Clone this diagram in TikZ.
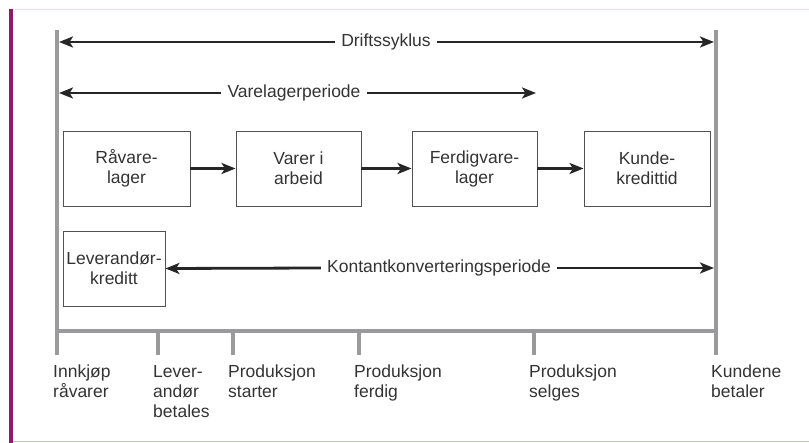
\documentclass[tikz,border=0pt]{standalone}
\usepackage{fontspec}
\setmainfont{Liberation Sans}
\usetikzlibrary{arrows.meta}
\definecolor{rulegray}{HTML}{9A9A9D}
\definecolor{ink}{HTML}{333333}
\definecolor{framebar}{HTML}{8C1A6E}
\definecolor{framelight}{HTML}{EEDCF2}
\definecolor{framepink}{HTML}{F0A8EC}
\tikzset{
  txt/.style={text=ink, font=\fontsize{17.5}{20}\selectfont, inner sep=2pt},
  stage/.style={txt, draw=ink!85, line width=.9pt, minimum height=75, align=center},
  period/.style={txt, inner sep=6pt},
  flow/.style={line width=2.8pt, draw=black!85, -{Stealth[length=14pt, width=11pt, inset=3.5pt]}},
  timeline/.style={line width=4pt, draw=rulegray},
  event/.style={txt, anchor=north west, align=left}
}
\begin{document}
\begin{tikzpicture}[x=1pt, y=-1pt]
  \useasboundingbox (0,0) rectangle (809,443);
  % frame of the page
  \fill[framebar] (9,9) rectangle (12.5,443);
  \draw[framelight] (12.5,9.5) -- (809,9.5);
  \draw[framepink, line width=1.4pt] (12.5,441.5) -- (809,441.5);

  % time axis
  \draw[timeline] (57,30) -- (57,355);
  \draw[timeline] (716,30) -- (716,355);
  \draw[timeline] (57,331) -- (716,331);
  \foreach \x in {158,233,359,534}
    \draw[timeline] (\x,331) -- (\x,355);

  % arrow ends on the axis lines
  \coordinate (dL) at (59,42);   \coordinate (dR) at (714,42);
  \coordinate (vL) at (59,93);   \coordinate (vR) at (536,93);
  \coordinate (kR) at (714,268);

  % periods
  \node[period] (drift) at (386,42) {Driftssyklus};
  \draw[flow] (drift.west) -- (dL);
  \draw[flow] (drift.east) -- (dR);

  \node[period] (vare) at (294,93) {Varelagerperiode};
  \draw[flow] (vare.west) -- (vL);
  \draw[flow] (vare.east) -- (vR);

  % stages
  \node[stage, minimum width=127] (raa) at (126.5,168.5) {Råvare-\\lager};
  \node[stage, minimum width=125] (arb) at (298.5,168.5) {Varer i\\arbeid};
  \node[stage, minimum width=125] (ferd) at (474.5,168.5) {Ferdigvare-\\lager};
  \node[stage, minimum width=126] (kunde) at (647,168.5) {Kunde-\\kredittid};
  \draw[flow] (raa) -- (arb);
  \draw[flow] (arb) -- (ferd);
  \draw[flow] (ferd) -- (kunde);

  \node[stage, minimum width=102] (lev) at (114,268.5) {Leverandør-\\kreditt};
  \node[period] (kont) at (439,268) {Kontantkonverteringsperiode};
  \draw[flow] (kont.west) -- (lev.east);
  \draw[flow] (kont.east) -- (kR);

  % events on the axis
  \node[event] (innkjop) at (51,363) {Innkjøp\\råvarer};
  \node[event] (levbet) at (151,363) {Lever-\\andør\\betales};
  \node[event] (start) at (226,363) {Produksjon\\starter};
  \node[event] (ferdig) at (352,363) {Produksjon\\ferdig};
  \node[event] (selges) at (527,363) {Produksjon\\selges};
  \node[event] (betaler) at (709,363) {Kundene\\betaler};
\end{tikzpicture}
\end{document}
